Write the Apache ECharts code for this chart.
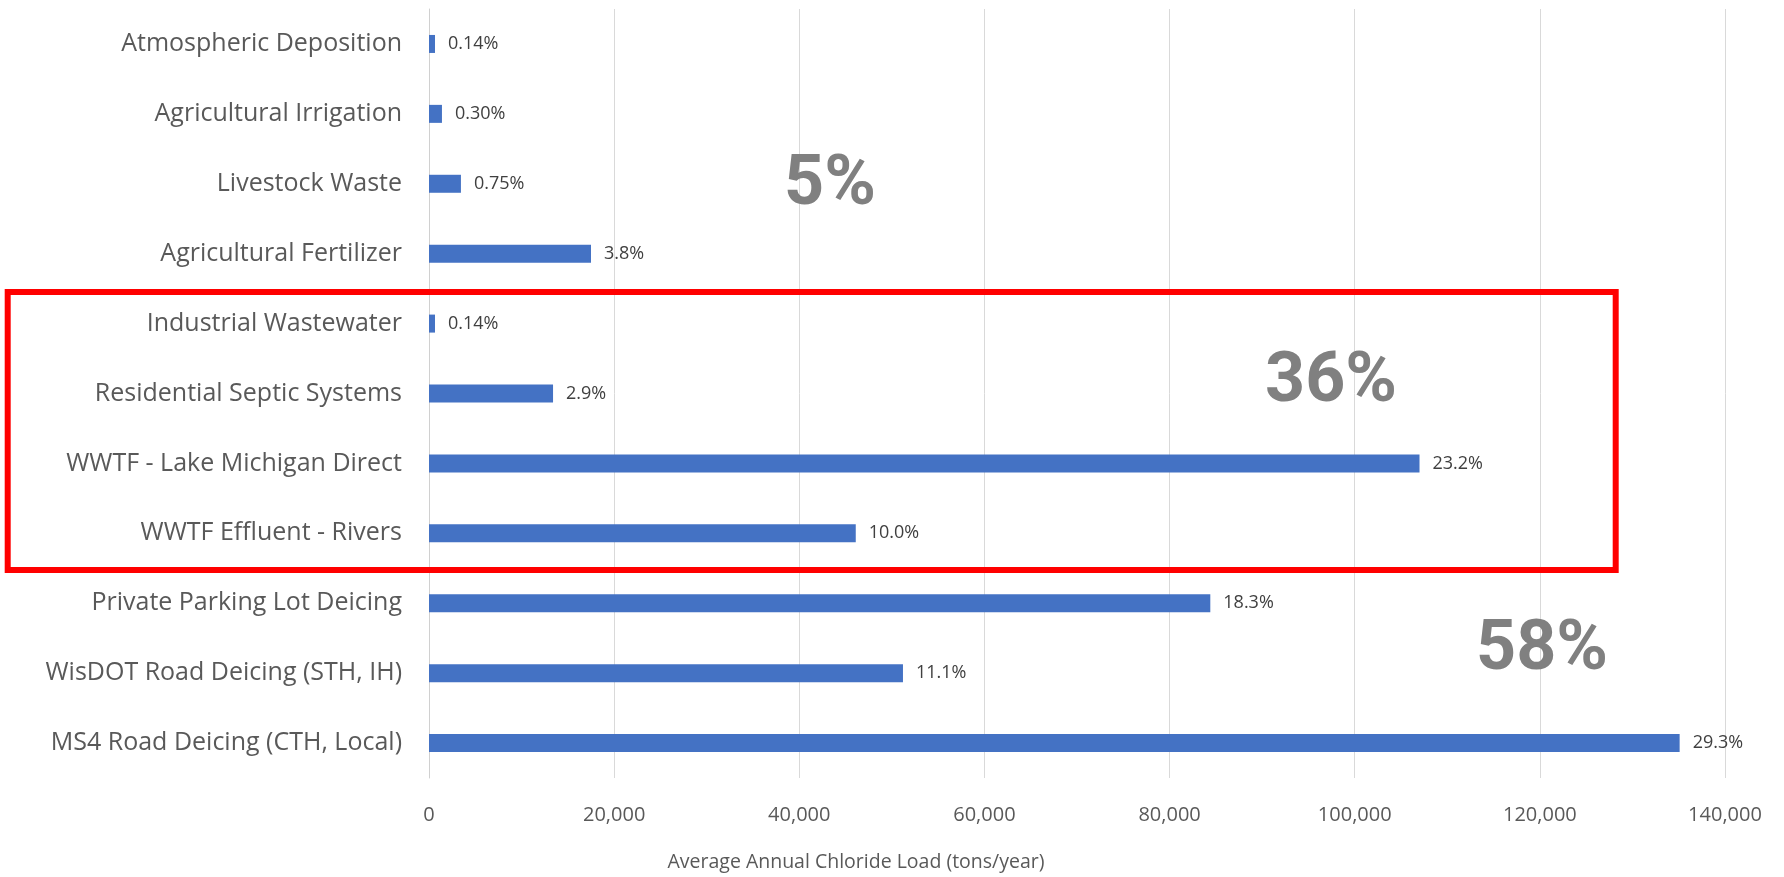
<!DOCTYPE html>
<html>
<head>
<meta charset="utf-8">
<title>Average Annual Chloride Load by Source</title>
<script src="https://cdn.jsdelivr.net/npm/echarts@6/dist/echarts.min.js"></script>
<style>
  html, body { margin: 0; padding: 0; background: #ffffff; }
  #chart { width: 1784px; height: 877px; }
</style>
</head>
<body>
<div id="chart"></div>
<script>
// Chloride sources, listed top to bottom
const categories = [
  'Atmospheric Deposition',
  'Agricultural Irrigation',
  'Livestock Waste',
  'Agricultural Fertilizer',
  'Industrial Wastewater',
  'Residential Septic Systems',
  'WWTF - Lake Michigan Direct',
  'WWTF Effluent - Rivers',
  'Private Parking Lot Deicing',
  'WisDOT Road Deicing (STH, IH)',
  'MS4 Road Deicing (CTH, Local)'
];

// Average annual chloride load, tons/year
const loads = [650, 1400, 3450, 17500, 650, 13400, 107000, 46100, 84400, 51200, 135100];

// Share of the total load for each source
const shares = ['0.14%', '0.30%', '0.75%', '3.8%', '0.14%', '2.9%', '23.2%', '10.0%', '18.3%', '11.1%', '29.3%'];

// Value axis ticks
const axisMax = 140000;
const axisStep = 20000;

// Group totals: agriculture/other, wastewater, deicing
const groupTotals = ['5%', '36%', '58%'];

const chart = echarts.init(document.getElementById('chart'));

const bigText = {
  font: 'bold 70px Roboto',
  fill: '#808080',
  align: 'center',
  verticalAlign: 'middle'
};

chart.setOption({
  animation: false,
  backgroundColor: '#ffffff',
  grid: { left: 429, right: 59, top: 9, bottom: 99, containLabel: false },
  xAxis: {
    type: 'value',
    min: 0,
    max: axisMax,
    interval: axisStep,
    axisLine: { show: false },
    axisTick: { show: false },
    splitLine: { lineStyle: { color: '#d9d9d9', width: 1 } },
    axisLabel: {
      color: '#595959',
      fontFamily: 'Open Sans',
      fontSize: 20,
      margin: 27,
      formatter: v => v.toLocaleString('en-US')
    }
  },
  yAxis: {
    type: 'category',
    inverse: true,
    data: categories,
    axisLine: { show: true, lineStyle: { color: '#d0d0d0', width: 1 } },
    axisTick: { show: false },
    axisLabel: {
      color: '#595959',
      fontFamily: 'Open Sans',
      fontSize: 25,
      margin: 27
    }
  },
  series: [{
    type: 'bar',
    data: loads,
    barWidth: 18,
    itemStyle: { color: '#4472C4' },
    label: {
      show: true,
      position: 'right',
      distance: 13,
      color: '#404040',
      fontFamily: 'Open Sans',
      fontSize: 18,
      formatter: p => shares[p.dataIndex]
    }
  }],
  graphic: [
    { type: 'text', x: 830, y: 186, z: 10, style: Object.assign({ text: groupTotals[0] }, bigText) },
    { type: 'text', x: 1331, y: 383, z: 10, style: Object.assign({ text: groupTotals[1] }, bigText) },
    { type: 'text', x: 1542, y: 651, z: 10, style: Object.assign({ text: groupTotals[2] }, bigText) },
    {
      type: 'rect', z: 20,
      shape: { x: 7.7, y: 292, width: 1608, height: 278 },
      style: { fill: 'none', stroke: '#ff0000', lineWidth: 6 }
    },
    {
      type: 'text', x: 856, y: 862, z: 10,
      style: {
        text: 'Average Annual Chloride Load (tons/year)',
        font: '19.5px "Open Sans"',
        fill: '#595959',
        align: 'center',
        verticalAlign: 'middle'
      }
    }
  ]
});
</script>
</body>
</html>
